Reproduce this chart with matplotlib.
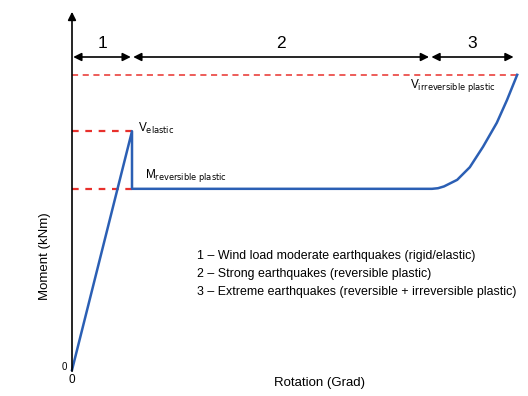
import matplotlib
matplotlib.use('Agg')
import matplotlib.pyplot as plt

plt.rcParams['font.family'] = ['Liberation Sans', 'DejaVu Sans']

# moment levels (arbitrary units)
m_elastic = 3.98
m_plastic = 3.02
m_irrev = 4.92

# rotation at end of each stage
rot_stage = [0.0, 1.0, 5.97, 7.38]
stage_names = ['1', '2', '3']

# moment-rotation curve
rot = [0.0, 1.0, 1.0, 6.0, 6.1, 6.2, 6.42, 6.63, 6.85, 7.08, 7.25, 7.42]
mom = [0.0, m_elastic, m_plastic, m_plastic, 3.03, 3.06, 3.17, 3.38, 3.72,
       4.12, 4.5, m_irrev]

legend_lines = [
    '1 \u2013 Wind load moderate earthquakes (rigid/elastic)',
    '2 \u2013 Strong earthquakes (reversible plastic)',
    '3 \u2013 Extreme earthquakes (reversible + irreversible plastic)',
]

fig = plt.figure(figsize=(5.28, 3.96), dpi=100)
ax = fig.add_axes([0, 0, 1, 1])
ax.set_xlim(-1.2, 7.6)
ax.set_ylim(-0.433, 6.167)
ax.axis('off')

red = '#e8302c'
blue = '#2b5fb4'

# y axis with arrow
ax.annotate('', xy=(0, 5.97), xytext=(0, -0.02),
            arrowprops=dict(arrowstyle='-|>', color='black', lw=1.2,
                            mutation_scale=12, shrinkA=0, shrinkB=0))

# stage arrows
y_arr = 5.217
for i, name in enumerate(stage_names):
    x0, x1 = rot_stage[i], rot_stage[i + 1]
    ax.annotate('', xy=(x1 - 0.02, y_arr), xytext=(x0 + 0.02, y_arr),
                arrowprops=dict(arrowstyle='<|-|>', color='black', lw=1.2,
                                mutation_scale=12, shrinkA=0, shrinkB=0))
    ax.text((x0 + x1) / 2, y_arr + 0.1, name, ha='center', va='bottom',
            fontsize=12.5)

# reference levels
ax.plot([0, rot[-1]], [m_irrev, m_irrev], color=red, lw=1.1, ls=(0, (4, 3)))
ax.plot([0, 1.0], [m_elastic, m_elastic], color=red, lw=1.6, ls=(0, (3, 3)))
ax.plot([0, 1.0], [m_plastic, m_plastic], color=red, lw=1.6, ls=(0, (3, 3)))

ax.plot(rot, mom, color=blue, lw=1.8, solid_joinstyle='round')

ax.text(1.1, m_elastic + 0.05, r'V$_{\mathrm{elastic}}$', fontsize=8.5,
        va='center')
ax.text(1.22, m_plastic + 0.23, r'M$_{\mathrm{reversible\ plastic}}$',
        fontsize=8.5, va='center')
ax.text(5.63, m_irrev - 0.17, r'V$_{\mathrm{irreversible\ plastic}}$',
        fontsize=8.5, va='center')

for k, line in enumerate(legend_lines):
    ax.text(2.08, 1.9 - k * 0.3, line, fontsize=8.9, va='center')

ax.text(-0.12, 0.05, '0', fontsize=7, ha='center', va='center')
ax.text(0.0, -0.17, '0', fontsize=8.5, ha='center', va='center')

ax.text(-0.45, 1.9, 'Moment (kNm)', rotation=90, fontsize=9.5,
        ha='center', va='center')
ax.text(4.13, -0.22, 'Rotation (Grad)', fontsize=9.5, ha='center',
        va='center')

fig.savefig('out.png', dpi=100)
